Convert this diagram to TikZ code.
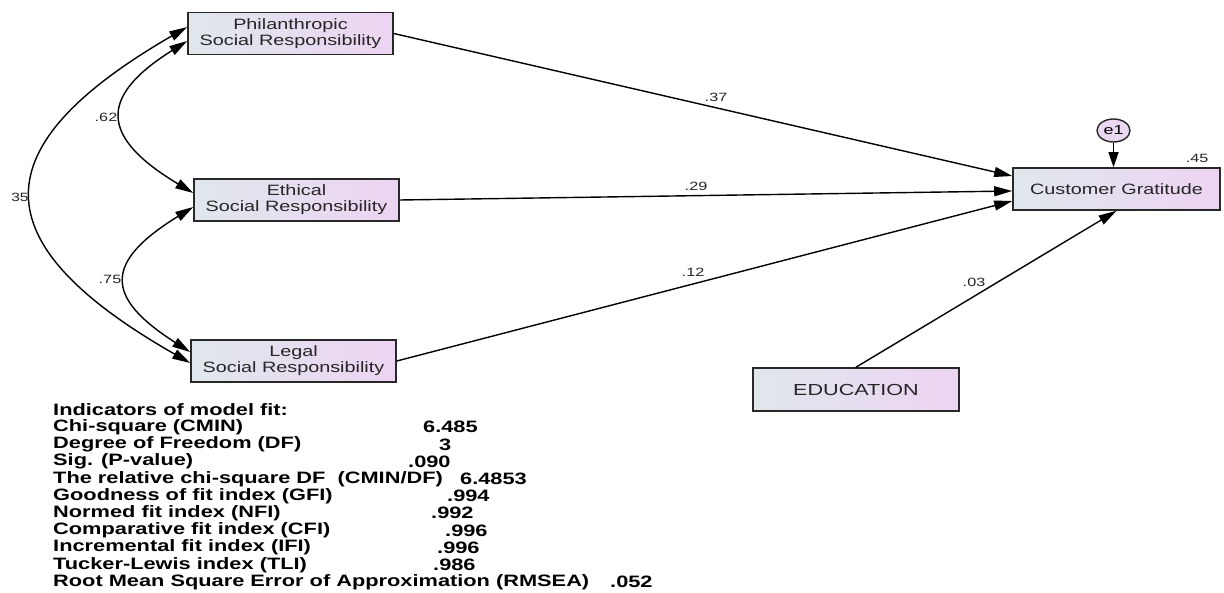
\documentclass[tikz,border=0pt]{standalone}
\usepackage{fontspec}
\setmainfont{Liberation Sans}
\usetikzlibrary{arrows.meta,shapes.geometric}
\definecolor{boxL}{RGB}{224,231,236}
\definecolor{boxR}{RGB}{237,212,243}
\definecolor{edge}{RGB}{40,40,40}
\definecolor{errfill}{RGB}{234,216,242}
% horizontally widened text
\newcommand\wide[2]{\scalebox{#1}[1]{#2}}
\newcommand\vtext[1]{\wide{1.32}{#1}}
\newcommand\ftext[1]{\wide{1.32}{#1}}
\begin{document}
\begin{tikzpicture}[x=1pt,y=-1pt,
  var/.style={draw=edge, line width=1.6pt, left color=boxL, right color=boxR,
    minimum width=205pt, minimum height=42pt, inner sep=0pt, text=black!85,
    font=\fontsize{15}{16}\selectfont, align=center},
  errvar/.style={ellipse, draw=edge, line width=1.4pt, fill=errfill,
    minimum width=33pt, minimum height=23pt, inner sep=0pt,
    font=\fontsize{13}{13}\selectfont},
  reg/.style={line width=1.4pt, -{Triangle[length=18pt,width=10pt]}},
  cov/.style={line width=1.4pt, {Triangle[length=18pt,width=10pt]}-{Triangle[length=18pt,width=10pt]}},
  coef/.style={font=\fontsize{12}{13}\selectfont, inner sep=0pt, text=black!85},
  fitline/.style={font=\fontsize{16.5}{16.5}\bfseries\selectfont, inner sep=0pt, anchor=west},
]
\useasboundingbox (0,0) rectangle (1224,592);
\fill[white] (0,0) rectangle (1224,592);

% observed variables
\node[var] (phil) at (290.5,33.5) {\vtext{Philanthropic}\\\vtext{Social Responsibility}};
\node[var] (eth)  at (296.5,200)  {\vtext{Ethical}\\\vtext{Social Responsibility}};
\node[var] (leg)  at (293.5,361)  {\vtext{Legal}\\\vtext{Social Responsibility}};
\node[var, minimum width=207pt] (cg) at (1116.5,189) {\vtext{Customer Gratitude}};
\node[var, minimum width=206pt, minimum height=43pt, font=\fontsize{16}{16}\selectfont] (edu) at (856,389.5) {\wide{1.35}{EDUCATION}};
\node[errvar] (e1) at (1113.5,130.5) {\wide{1.38}{e1}};

% regression paths
\draw[reg] (phil.east) -- (cg.west |- 0,176);
\draw[reg] (eth.east)  -- (cg.west |- 0,191);
\draw[reg] (leg.east)  -- (cg.west |- 0,201);
\draw[reg] (edu.north) -- (cg.south);
\draw[line width=1.4pt, -{Triangle[length=15pt,width=10pt]}] (e1.south) -- (e1.south |- cg.north);

% path coefficients
\node[coef] (c37) at (716,97) {\wide{1.35}{.37}};
\node[coef] (c29) at (696,186) {\wide{1.35}{.29}};
\node[coef] (c12) at (693,272) {\wide{1.35}{.12}};
\node[coef] (c03) at (974,282) {\wide{1.35}{.03}};
\node[coef] (r45) at (1197,158) {\wide{1.35}{.45}};

% covariances
\draw[cov] (phil.west |- 0,41) .. controls (98,97) and (100,137) .. (eth.west |- 0,193);
\draw[cov] (eth.west |- 0,207) .. controls (104,262) and (104,297) .. (leg.west |- 0,352);
\draw[cov] (phil.west |- 0,27) .. controls (-20,147) and (-20,243) .. (leg.west |- 0,363);
\node[coef] (c62) at (106,117) {\wide{1.35}{.62}};
\node[coef] (c75) at (110,279) {\wide{1.35}{.75}};
\node[coef] (c35) at (20,197) {\wide{1.3}{35}};

% model fit summary
\node[fitline] (f0)  at (53,410) {\ftext{Indicators of model fit:}};
\node[fitline] (f1)  at (53,427.2) {\ftext{Chi-square (CMIN)}};
\node[fitline] (v1)  at (423,427.2) {\ftext{6.485}};
\node[fitline] (f2)  at (53,444.4) {\ftext{Degree of Freedom (DF)}};
\node[fitline] (v2)  at (439,444.4) {\ftext{3}};
\node[fitline] (f3)  at (53,461.6) {\ftext{Sig. (P-value)}};
\node[fitline] (v3)  at (408,461.6) {\ftext{.090}};
\node[fitline] (f4)  at (53,478.8) {\ftext{The relative chi-square DF\ \ (CMIN/DF)}};
\node[fitline] (v4)  at (460,478.8) {\ftext{6.4853}};
\node[fitline] (f5)  at (53,496) {\ftext{Goodness of fit index (GFI)}};
\node[fitline] (v5)  at (447,496) {\ftext{.994}};
\node[fitline] (f6)  at (53,513.2) {\ftext{Normed fit index (NFI)}};
\node[fitline] (v6)  at (431,513.2) {\ftext{.992}};
\node[fitline] (f7)  at (53,530.4) {\ftext{Comparative fit index (CFI)}};
\node[fitline] (v7)  at (445,530.4) {\ftext{.996}};
\node[fitline] (f8)  at (53,547.6) {\ftext{Incremental fit index (IFI)}};
\node[fitline] (v8)  at (437,547.6) {\ftext{.996}};
\node[fitline] (f9)  at (53,564.8) {\ftext{Tucker-Lewis index (TLI)}};
\node[fitline] (v9)  at (433,564.8) {\ftext{.986}};
\node[fitline] (f10) at (53,582) {\ftext{Root Mean Square Error of Approximation (RMSEA)}};
\node[fitline] (v10) at (610,582) {\ftext{.052}};
\end{tikzpicture}
\end{document}
